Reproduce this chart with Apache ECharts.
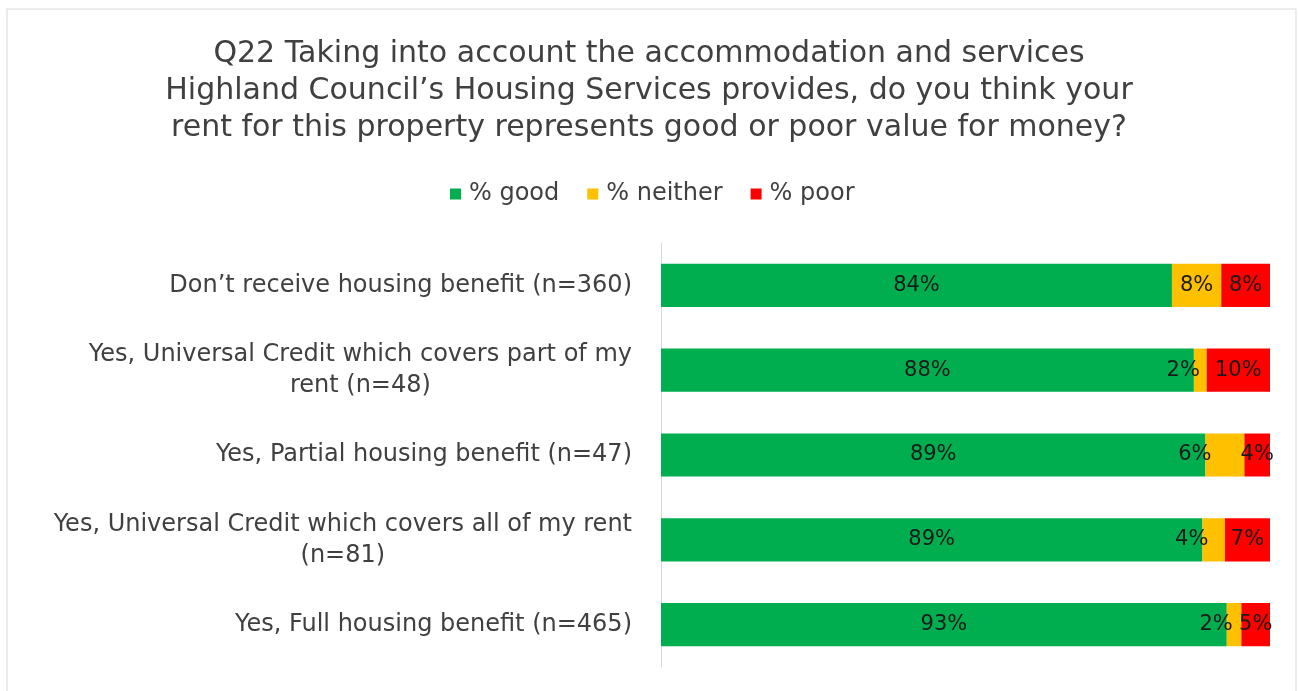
<!DOCTYPE html>
<html><head><meta charset="utf-8">
<script src="https://cdn.jsdelivr.net/npm/echarts@6/dist/echarts.min.js"></script>
<style>html,body{margin:0;padding:0;background:#fff}#c{width:1298px;height:691px}</style>
</head><body><div id="c"></div>
<script>
const titleText = "Q22 Taking into account the accommodation and services\nHighland Council\u2019s Housing Services provides, do you think your\nrent for this property represents good or poor value for money?";
const categories = [
  "Don\u2019t receive housing benefit (n=360)",
  "Yes, Universal Credit which covers part of my\nrent (n=48)",
  "Yes, Partial housing benefit (n=47)",
  "Yes, Universal Credit which covers all of my rent\n(n=81)",
  "Yes, Full housing benefit (n=465)"
];
const seriesNames = ["% good", "% neither", "% poor"];
const good = [83.9, 87.5, 89.4, 88.9, 92.9];
const neither = [8.1, 2.1, 6.4, 3.7, 2.4];
const poor = [8.0, 10.4, 4.3, 7.4, 4.7];
const colors = ["#00AD4F", "#FFC000", "#FF0000"];

const FONT = "DejaVu Sans";
const chart = echarts.init(document.getElementById('c'), null, {renderer: 'canvas'});
const fmt = p => Math.round(p.value) + '%';
const baseLabel = {show: true, position: 'inside', formatter: fmt, color: '#1a1a1a', fontSize: 21, fontFamily: FONT};

function seriesFor(name, vals, color, labelFn) {
  return {
    name: name, type: 'bar', stack: 'total', barWidth: '51%',
    itemStyle: {color: color},
    label: baseLabel,
    data: vals.map((v, i) => labelFn ? {value: v, label: labelFn(v, i)} : v)
  };
}

chart.setOption({
  animation: false,
  textStyle: {fontFamily: FONT},
  title: {
    text: titleText, left: 'center', top: 31,
    textStyle: {fontFamily: FONT, fontSize: 30, fontWeight: 'normal', color: '#404040', lineHeight: 37}
  },
  legend: {
    left: 445, top: 177, itemWidth: 11, itemHeight: 11, itemGap: 28,
    icon: 'rect',
    textStyle: {fontFamily: FONT, fontSize: 24, color: '#404040', padding: [0, 0, 0, 3]},
    data: seriesNames
  },
  grid: {left: 661, right: 28, top: 243, bottom: 24, containLabel: false},
  xAxis: {type: 'value', min: 0, max: 100, show: false},
  yAxis: {
    type: 'category', inverse: true, data: categories,
    axisLine: {show: true, lineStyle: {color: '#d9d9d9', width: 1}},
    axisTick: {show: false},
    axisLabel: {
      margin: 29, fontSize: 24, color: '#404040', fontFamily: FONT, lineHeight: 31,
      formatter: v => v.split('\n').map(l => '{c|' + l + '}').join('\n'),
      rich: {c: {align: 'center', fontSize: 24, color: '#404040', fontFamily: FONT, lineHeight: 31}}
    }
  },
  graphic: [{
    type: 'rect', shape: {x: 7, y: 9, width: 1289, height: 700},
    style: {fill: 'none', stroke: '#d9d9d9', lineWidth: 1}, silent: true
  }],
  series: [
    seriesFor(seriesNames[0], good, colors[0]),
    seriesFor(seriesNames[1], neither, colors[1], (v) => v < 7 ? {position: [6, '50%'], align: 'right', verticalAlign: 'middle'} : undefined),
    seriesFor(seriesNames[2], poor, colors[2])
  ]
});
</script></body></html>
